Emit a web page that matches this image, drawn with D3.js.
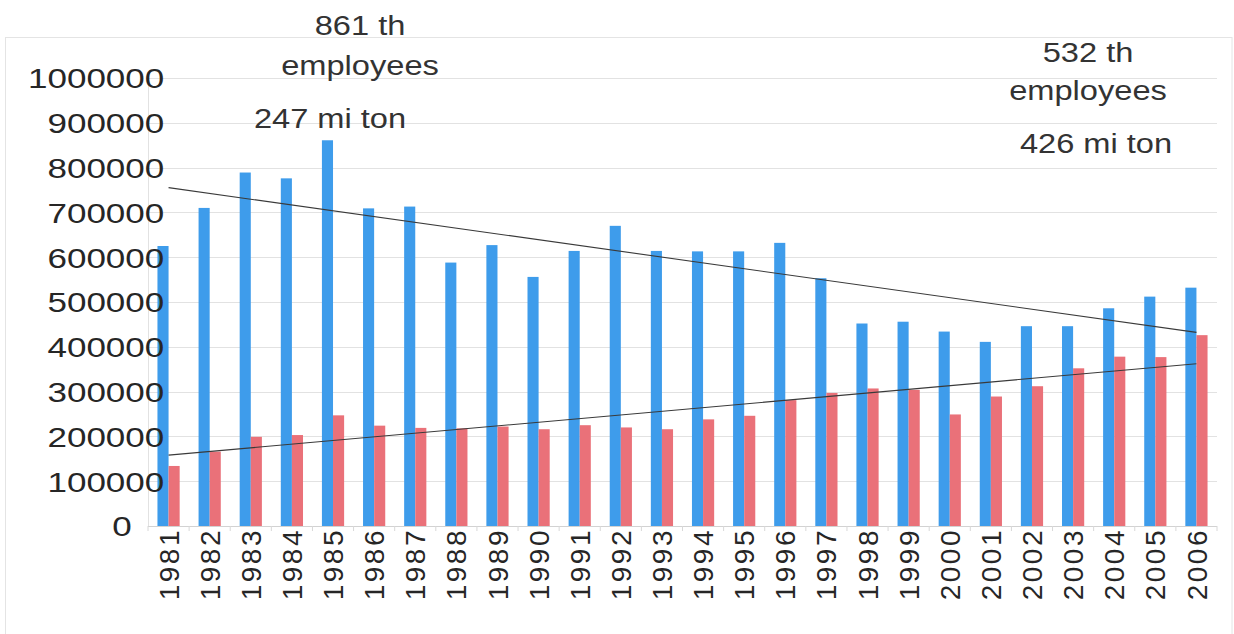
<!DOCTYPE html>
<html>
<head>
<meta charset="utf-8">
<script src="https://cdn.jsdelivr.net/npm/d3@7"></script>
<style>
  html, body { margin: 0; padding: 0; background: #fff; }
  svg { display: block; }
  text { font-family: "Liberation Sans", Arial, sans-serif; }
</style>
</head>
<body>
<svg id="chart" width="1234" height="634"></svg>
<script>
// Years on the category axis
const years = [1981, 1982, 1983, 1984, 1985, 1986, 1987, 1988, 1989, 1990,
               1991, 1992, 1993, 1994, 1995, 1996, 1997, 1998, 1999, 2000,
               2001, 2002, 2003, 2004, 2005, 2006];

// Number of employees
const employees = [625000, 710000, 789000, 776000, 861000, 709000, 713000, 588000, 627000, 556000,
                   614000, 670000, 614000, 613000, 613000, 632000, 553000, 452000, 456000, 434000,
                   411000, 446000, 446000, 486000, 512000, 532000];

// Production (thousand tons)
const production = [134000, 166000, 199000, 203000, 247000, 224000, 219000, 218000, 222000, 216000,
                    225000, 220000, 216000, 238000, 246000, 281000, 297000, 307000, 304000, 249000,
                    289000, 312000, 352000, 378000, 377000, 426000];

const yTicks = [0, 100000, 200000, 300000, 400000, 500000, 600000, 700000, 800000, 900000, 1000000];

const seriesNames = ["employees", "production"];
const seriesColors = { employees: "#3e9ceb", production: "#ea7179" };

const annotations = [
  { lines: ["861 th", "employees"], ton: "247 mi ton", cx: 360, tonCx: 330, y0: 35, y1: 75, yt: 128 },
  { lines: ["532 th", "employees"], ton: "426 mi ton", cx: 1088, tonCx: 1096, y0: 62, y1: 100, yt: 153 }
];

const svg = d3.select("#chart");
const W = 1234, H = 634;
const plot = { left: 148, right: 1217, top: 78, bottom: 526 };

// Outer frame
svg.append("rect")
  .attr("x", 5.5).attr("y", 37.5)
  .attr("width", 1232 - 5.5).attr("height", H)
  .attr("fill", "none")
  .attr("stroke", "#e4e4e4")
  .attr("stroke-width", 1);

const x0 = d3.scaleBand()
  .domain(years)
  .range([plot.left, plot.right])
  .paddingInner(0.46)
  .paddingOuter(0.23);

const x1 = d3.scaleBand()
  .domain(seriesNames)
  .range([0, x0.bandwidth()]);

const y = d3.scaleLinear()
  .domain([0, 1000000])
  .range([plot.bottom, plot.top]);

// Horizontal gridlines
svg.append("g")
  .selectAll("line")
  .data(yTicks)
  .join("line")
  .attr("x1", plot.left).attr("x2", plot.right)
  .attr("y1", d => Math.round(y(d)) + 0.5)
  .attr("y2", d => Math.round(y(d)) + 0.5)
  .attr("stroke", d => d === 0 ? "#d2d2d2" : "#e2e2e2")
  .attr("stroke-width", 1);

// Vertical axis line
svg.append("line")
  .attr("x1", plot.left + 0.5).attr("x2", plot.left + 0.5)
  .attr("y1", plot.top).attr("y2", plot.bottom)
  .attr("stroke", "#e2e2e2");

// Small category separators below the baseline
const step = x0.step();
svg.append("g")
  .selectAll("line")
  .data(d3.range(years.length + 1))
  .join("line")
  .attr("x1", i => plot.left + i * step)
  .attr("x2", i => plot.left + i * step)
  .attr("y1", plot.bottom).attr("y2", plot.bottom + 5)
  .attr("stroke", "#d8d8d8");

// Bars
const rows = years.map((yr, i) => ({ year: yr, employees: employees[i], production: production[i] }));
const groups = svg.append("g")
  .selectAll("g")
  .data(rows)
  .join("g")
  .attr("transform", d => `translate(${x0(d.year)},0)`);

groups.selectAll("rect")
  .data(d => seriesNames.map(k => ({ key: k, value: d[k] })))
  .join("rect")
  .attr("x", d => x1(d.key))
  .attr("width", x1.bandwidth())
  .attr("y", d => y(d.value))
  .attr("height", d => y(0) - y(d.value))
  .attr("fill", d => seriesColors[d.key]);

// Linear trend lines (least squares) spanning the first to last category centre
function trend(values) {
  const n = values.length;
  const xs = d3.range(n);
  const mx = d3.mean(xs), my = d3.mean(values);
  let sxy = 0, sxx = 0;
  xs.forEach((xv, i) => { sxy += (xv - mx) * (values[i] - my); sxx += (xv - mx) * (xv - mx); });
  const b = sxy / sxx, a = my - b * mx;
  return [a, a + b * (n - 1)];
}
const cx = yr => x0(yr) + x0.bandwidth() / 2;
[employees, production].forEach(vals => {
  const [v0, v1] = trend(vals);
  svg.append("line")
    .attr("x1", cx(years[0])).attr("y1", y(v0))
    .attr("x2", cx(years[years.length - 1])).attr("y2", y(v1))
    .attr("stroke", "#3a3a3a")
    .attr("stroke-width", 1.1);
});

// Value axis labels
const yAxis = svg.append("g")
  .attr("transform", `translate(${plot.left},0)`)
  .call(d3.axisLeft(y).tickValues(yTicks).tickSize(0).tickFormat(d3.format("d")));
yAxis.select(".domain").remove();
yAxis.selectAll("text")
  .attr("x", d => d === 0 ? -13 : 13)
  .attr("dy", "0.35em")
  .attr("transform", "scale(1.25,1)")
  .style("font-size", "28px")
  .style("font-family", "'Liberation Sans', Arial, sans-serif")
  .attr("fill", "#262626");

// Category labels, rotated
svg.append("g")
  .selectAll("text")
  .data(years)
  .join("text")
  .attr("transform", d => `translate(${cx(d)},${plot.bottom + 2}) rotate(-90)`)
  .attr("text-anchor", "end")
  .attr("dy", "0.36em")
  .style("font-size", "28px")
  .style("letter-spacing", "2.5px")
  .attr("fill", "#262626")
  .text(d => d);

// Annotations
annotations.forEach(a => {
  const add = (txt, xc, yb) => svg.append("text")
    .attr("transform", `translate(${xc},${yb}) scale(1.165,1)`)
    .attr("text-anchor", "middle")
    .style("font-size", "28px")
    .attr("fill", "#333")
    .text(txt);
  add(a.lines[0], a.cx, a.y0);
  add(a.lines[1], a.cx, a.y1);
  add(a.ton, a.tonCx, a.yt);
});
</script>
</body>
</html>
